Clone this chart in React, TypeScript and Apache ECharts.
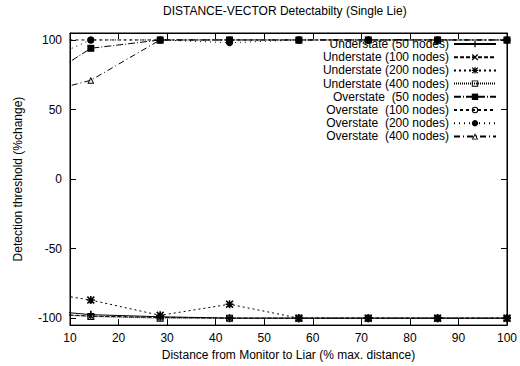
import React, { useEffect, useRef } from "react";
import * as echarts from "echarts";

// Distance from monitor to liar (% of max distance); the 0 point lies left of the visible range
const distances = [0, 14.29, 28.57, 42.86, 57.14, 71.43, 85.71, 100];

const understate50 = [-93, -97.5, -99, -100, -100, -100, -100, -100];
const understate100 = [-96, -98.5, -99.5, -100, -100, -100, -100, -100];
const understate200 = [-79, -87, -98, -90, -100, -100, -100, -100];
const understate400 = [-96, -98.8, -100, -100, -100, -100, -100, -100];
const overstate50 = [62, 94, 100, 100, 100, 100, 100, 100];
const overstate100 = [100, 100, 100, 100, 100, 100, 100, 100];
const overstate200 = [78, 100, 100, 98, 100, 100, 100, 100];
const overstate400 = [58, 71, 100, 100, 100, 100, 100, 100];

const seriesNames = [
  "Understate (50 nodes)",
  "Understate (100 nodes)",
  "Understate (200 nodes)",
  "Understate (400 nodes)",
  "Overstate  (50 nodes)",
  "Overstate  (100 nodes)",
  "Overstate  (200 nodes)",
  "Overstate  (400 nodes)",
];
const seriesValues = [
  understate50,
  understate100,
  understate200,
  understate400,
  overstate50,
  overstate100,
  overstate200,
  overstate400,
];

const yTicks = [-100, -50, 0, 50, 100];
const xTicks = [10, 20, 30, 40, 50, 60, 70, 80, 90, 100];

const PLUS = "path://M4,0H6V4H10V6H6V10H4V6H0V4H4Z";
const CROSS =
  "path://M0,1.4L1.4,0L5,3.6L8.6,0L10,1.4L6.4,5L10,8.6L8.6,10L5,6.4L1.4,10L0,8.6L3.6,5Z";
const STAR =
  "path://M4,0H6V4H10V6H6V10H4V6H0V4H4Z M0,1.4L1.4,0L5,3.6L8.6,0L10,1.4L6.4,5L10,8.6L8.6,10L5,6.4L1.4,10L0,8.6L3.6,5Z";
const HOLLOW_SQUARE = "path://M0,0H10V10H0Z M1.5,1.5V8.5H8.5V1.5Z";
const HOLLOW_CIRCLE =
  "path://M0,5A5,5 0 1,1 10,5A5,5 0 1,1 0,5Z M1.6,5A3.4,3.4 0 1,0 8.4,5A3.4,3.4 0 1,0 1.6,5Z";
const HOLLOW_TRIANGLE = "path://M5,0L10,10H0Z M5,3.2L2.2,8.6H7.8Z";

const styles = [
  { symbol: PLUS, size: 8, dash: "solid" as any },
  { symbol: CROSS, size: 6, dash: [4, 2] },
  { symbol: STAR, size: 8, dash: [2, 3] },
  { symbol: HOLLOW_SQUARE, size: 7, dash: [1, 1] },
  { symbol: "rect", size: 7, dash: [7, 2, 1, 2] },
  { symbol: HOLLOW_CIRCLE, size: 7, dash: [3, 3] },
  { symbol: "circle", size: 7, dash: [1, 4] },
  { symbol: HOLLOW_TRIANGLE, size: 7, dash: [6, 3, 1, 3] },
];

const FONT = "Liberation Sans";

export default function App() {
  const ref = useRef<HTMLDivElement>(null);
  useEffect(() => {
    if (!ref.current) return;
    const chart = echarts.init(ref.current, null, { renderer: "svg" });

    const baseAxis = {
      axisLine: { show: true, onZero: false, lineStyle: { color: "#000", width: 1 } },
      axisTick: { show: true, inside: true, length: 6, lineStyle: { color: "#000" } },
      splitLine: { show: false },
    };

    const series = seriesNames.map((name, i) => ({
      name,
      type: "line",
      xAxisIndex: 0,
      yAxisIndex: 0,
      data: distances.map((d, j) => [d, seriesValues[i][j]]),
      symbol: styles[i].symbol,
      symbolSize: styles[i].size,
      showSymbol: true,
      showAllSymbol: true,
      clip: true,
      lineStyle: { color: "#000", width: 1, type: styles[i].dash },
      itemStyle: { color: "#000", borderWidth: 0 },
      emphasis: { disabled: true },
    }));

    const legends = seriesNames.map((name, i) => ({
      data: [name],
      right: 23,
      top: 38 + i * 13.2,
      orient: "horizontal",
      align: "right",
      itemWidth: 42,
      itemHeight: 8,
      padding: 0,
      selectedMode: false,
      textStyle: { fontSize: 12, fontFamily: FONT, color: "#000" },
    }));

    chart.setOption({
      animation: false,
      backgroundColor: "#fff",
      title: {
        text: "DISTANCE-VECTOR Detectabilty (Single Lie)",
        left: 163,
        top: 5,
        padding: 0,
        textStyle: { fontSize: 12, fontWeight: "normal", fontFamily: FONT, color: "#000" },
      },
      grid: {
        left: 70,
        right: 8,
        top: 33,
        bottom: 39,
        show: true,
        borderColor: "#000",
        borderWidth: 1,
        backgroundColor: "transparent",
      },
      legend: legends,
      xAxis: [
        {
          ...baseAxis,
          type: "value",
          min: 10,
          max: 100,
          interval: 10,
          position: "bottom",
          name: "Distance from Monitor to Liar (% max. distance)",
          nameLocation: "middle",
          nameGap: 23,
          nameTextStyle: { fontSize: 12, fontFamily: FONT, color: "#000" },
          axisLabel: {
            show: true,
            margin: 7,
            fontSize: 12,
            fontFamily: FONT,
            color: "#000",
            customValues: xTicks,
          },
          axisTick: { ...baseAxis.axisTick, customValues: xTicks },
        },
        {
          ...baseAxis,
          type: "value",
          min: 10,
          max: 100,
          interval: 10,
          position: "top",
          axisLabel: { show: false },
          axisTick: { ...baseAxis.axisTick, customValues: xTicks },
        },
      ],
      yAxis: [
        {
          ...baseAxis,
          type: "value",
          min: -105,
          max: 105,
          position: "left",
          name: "Detection threshold (%change)",
          nameLocation: "middle",
          nameGap: 46,
          nameTextStyle: { fontSize: 12, fontFamily: FONT, color: "#000" },
          axisLabel: {
            show: true,
            margin: 8,
            fontSize: 12,
            fontFamily: FONT,
            color: "#000",
            customValues: yTicks,
          },
          axisTick: { ...baseAxis.axisTick, customValues: yTicks },
        },
        {
          ...baseAxis,
          type: "value",
          min: -105,
          max: 105,
          position: "right",
          axisLabel: { show: false },
          axisTick: { ...baseAxis.axisTick, customValues: yTicks },
        },
      ],
      series,
    });
    return () => chart.dispose();
  }, []);
  return (
    <div
      ref={ref}
      style={{ position: "fixed", left: 0, top: 0, width: 520, height: 366, background: "#fff" }}
    />
  );
}
